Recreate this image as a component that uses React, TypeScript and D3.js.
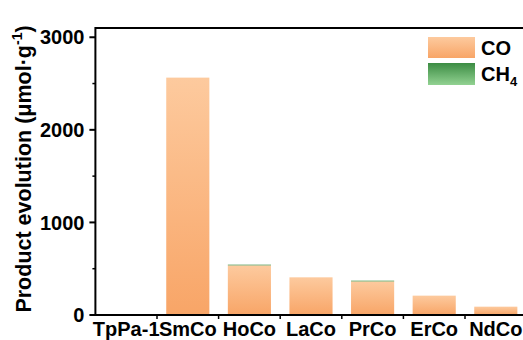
import React from "react";
import * as d3 from "d3";

const categories = ["TpPa-1", "SmCo", "HoCo", "LaCo", "PrCo", "ErCo", "NdCo"];
const coValues = [0, 2564, 536, 407, 363, 209, 90];
const ch4Values = [0, 0, 8, 0, 8, 0, 0];
const yMajorTicks = [0, 1000, 2000, 3000];
const yMinorTicks = [500, 1500, 2500];

const FONT = "'Liberation Sans', Arial, Helvetica, sans-serif";

const App = () => {
  const width = 523;
  const height = 340;
  const left = 95.4;
  const right = 526.6;
  const top = 28;
  const bottom = 315;

  const x = d3.scaleBand<string>()
    .domain(categories)
    .range([left, right])
    .paddingInner(0.3)
    .paddingOuter(0.15);

  const y = d3.scaleLinear().domain([0, 3100]).range([bottom, top]);

  const step = x.step();
  const boundaries = d3.range(1, categories.length).map(i => left + i * step);

  return (
    <svg width={width} height={height} style={{ position: "absolute", left: 0, top: 0 }}
      fontFamily={FONT}>
      <defs>
        <linearGradient id="coGrad" x1="0" y1="0" x2="0" y2="1">
          <stop offset="0%" stopColor="#fdca9e" />
          <stop offset="100%" stopColor="#f8a567" />
        </linearGradient>
        <linearGradient id="ch4Grad" x1="0" y1="0" x2="0" y2="1">
          <stop offset="0%" stopColor="#3c8c43" />
          <stop offset="100%" stopColor="#92d292" />
        </linearGradient>
      </defs>

      {/* bars */}
      {categories.map((c, i) => {
        const co = coValues[i];
        const ch4 = ch4Values[i];
        return (
          <g key={c}>
            {co > 0 &&
              <rect x={x(c)} y={y(co)} width={x.bandwidth()} height={y(0) - y(co)} fill="url(#coGrad)" />}
            {ch4 > 0 &&
              <rect x={x(c)} y={y(co + ch4)} width={x.bandwidth()} height={y(co) - y(co + ch4)} fill="#4f9a52" />}
          </g>
        );
      })}

      {/* frame */}
      <line x1={left} x2={width + 5} y1={top} y2={top} stroke="black" strokeWidth="2" />
      <line x1={left} x2={left} y1={top - 1} y2={bottom + 1} stroke="black" strokeWidth="2" />
      <line x1={left - 1} x2={width + 5} y1={bottom} y2={bottom} stroke="black" strokeWidth="2" />

      {/* y ticks */}
      {yMajorTicks.map(t => (
        <g key={t} transform={`translate(0, ${y(t)})`}>
          <line x1={left - 6} x2={left} stroke="black" strokeWidth="2" />
          <text x={left - 11} dy="0.36em" textAnchor="end" fontSize="20" fontWeight="bold">{t}</text>
        </g>
      ))}
      {yMinorTicks.map(t => (
        <line key={t} x1={left - 3} x2={left} y1={y(t)} y2={y(t)} stroke="black" strokeWidth="1.5" />
      ))}

      {/* x ticks and labels */}
      {boundaries.map((b, i) => (
        <line key={i} x1={b} x2={b} y1={bottom} y2={bottom + 4} stroke="black" strokeWidth="1.5" />
      ))}
      {categories.map(c => (
        <text key={c} x={(x(c) as number) + x.bandwidth() / 2} y={336} textAnchor="middle"
          fontSize="20" fontWeight="bold">{c}</text>
      ))}

      {/* y label */}
      <text transform="translate(31, 169) rotate(-90)" textAnchor="middle"
        fontSize="21.5" fontWeight="bold">
        Product evolution (μmol·g<tspan dy="-9" fontSize="14">-1</tspan><tspan dy="9">)</tspan>
      </text>

      {/* legend */}
      <rect x={428} y={37} width={47} height={21} fill="url(#coGrad)" />
      <rect x={428} y={63} width={47} height={22} fill="url(#ch4Grad)" />
      <text x={481} y={55} fontSize="20" fontWeight="bold">CO</text>
      <text x={481} y={81} fontSize="20" fontWeight="bold">
        CH<tspan dy="5" fontSize="13">4</tspan>
      </text>
    </svg>
  );
};

export default App;
